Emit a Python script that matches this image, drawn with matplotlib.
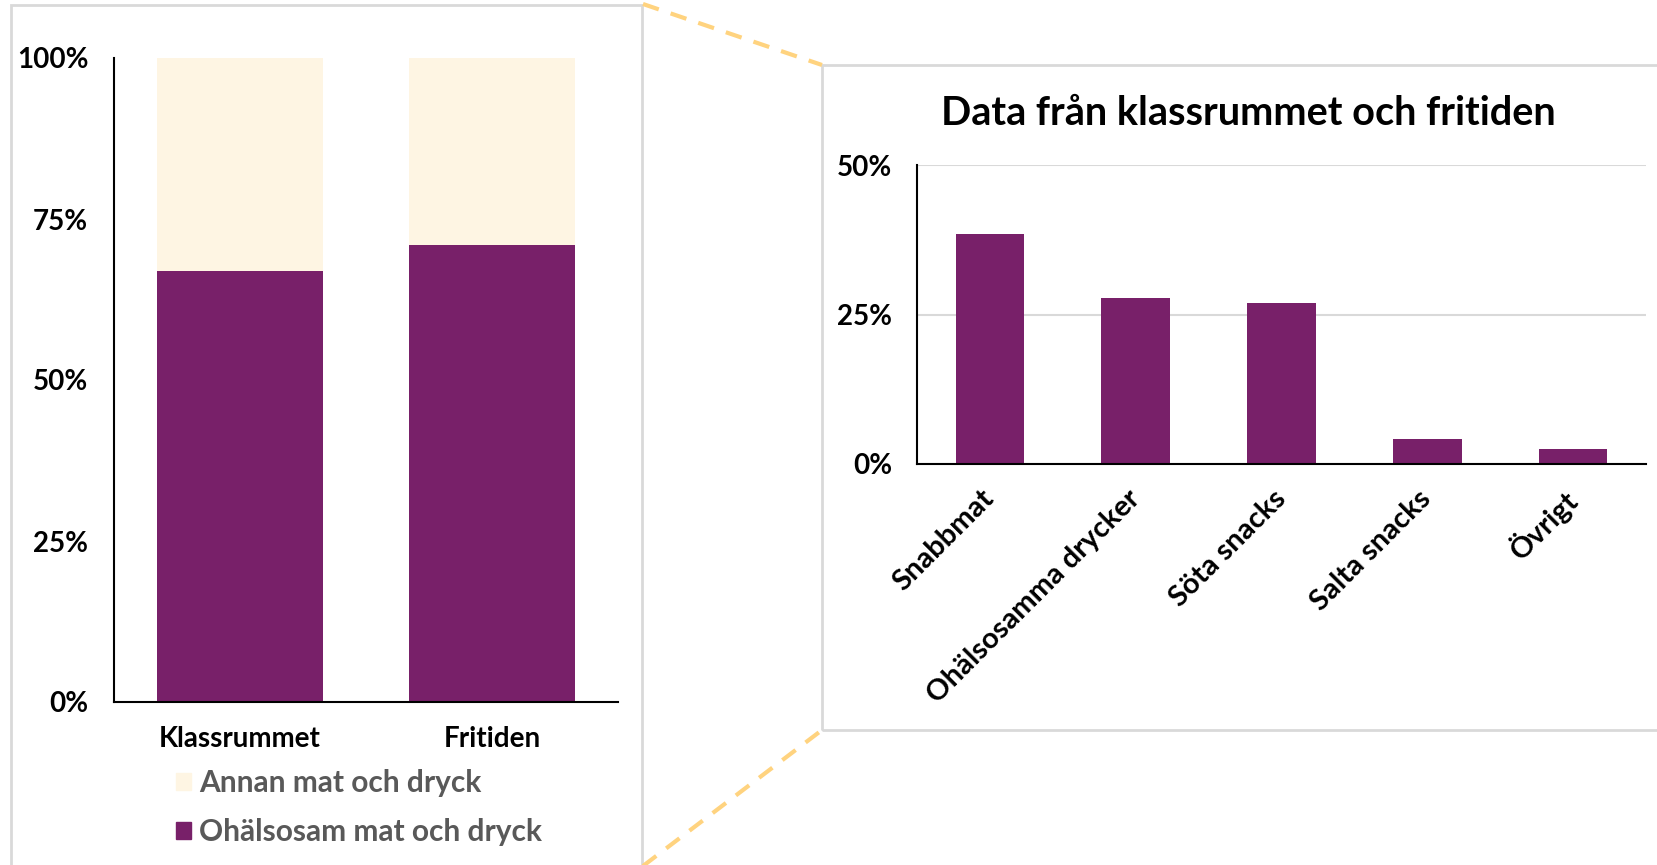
import matplotlib.pyplot as plt
from matplotlib.lines import Line2D
from matplotlib.patches import Rectangle, Patch

# left chart: share of unhealthy vs other food (percent)
places = ['Klassrummet', 'Fritiden']
unhealthy = [67, 71]
other = [33, 29]

# right chart: breakdown (percent)
kinds = ['Snabbmat', 'Ohälsosamma drycker', 'Söta snacks', 'Salta snacks', 'Övrigt']
kind_share = [38.5, 27.7, 27.0, 4.1, 2.5]

purple = '#782069'
cream = '#FEF5E3'
frame = '#D9D9D9'
gold = '#FFD37F'

plt.rcParams['font.family'] = ['Lato', 'DejaVu Sans']
plt.rcParams['font.weight'] = 'bold'

W, H = 1657, 865
fig = plt.figure(figsize=(W / 100, H / 100), dpi=100)


def fx(px):
    return px / W


def fy(py):
    return 1 - py / H


# panel frames and dashed connectors
fig.patches.append(Rectangle((fx(11), fy(870)), fx(642) - fx(11), fy(5) - fy(870),
                             transform=fig.transFigure, fill=False, ec=frame, lw=2))
fig.patches.append(Rectangle((fx(822), fy(730)), fx(1670) - fx(822), fy(65) - fy(730),
                             transform=fig.transFigure, fill=False, ec=frame, lw=2))
fig.lines.append(Line2D([fx(643), fx(822)], [fy(4), fy(65)], transform=fig.transFigure,
                        color=gold, lw=3, ls=(0, (4, 3))))
fig.lines.append(Line2D([fx(643), fx(822)], [fy(866), fy(730)], transform=fig.transFigure,
                        color=gold, lw=3, ls=(0, (4, 3))))

# ---- left stacked chart ----
ax1 = fig.add_axes([fx(114), fy(702), fx(618) - fx(114), fy(58) - fy(702)])
ax1.bar(places, unhealthy, width=0.66, color=purple, label='Ohälsosam mat och dryck')
ax1.bar(places, other, width=0.66, bottom=unhealthy, color=cream, label='Annan mat och dryck')
ax1.set_xlim(-0.5, 1.5)
ax1.set_ylim(0, 100)
ax1.set_yticks([0, 25, 50, 75, 100])
ax1.set_yticklabels(['0%', '25%', '50%', '75%', '100%'])
ax1.tick_params(axis='y', length=0, pad=18.5, labelsize=20)
ax1.tick_params(axis='x', length=0, pad=17, labelsize=20)
for s in ['top', 'right']:
    ax1.spines[s].set_visible(False)
for s in ['left', 'bottom']:
    ax1.spines[s].set_linewidth(1.5)
    ax1.spines[s].set_color('black')

handles = [Patch(color=cream), Patch(color=purple)]
fig.legend(handles, ['Annan mat och dryck', 'Ohälsosam mat och dryck'],
           loc='upper left', bbox_to_anchor=(fx(176), fy(769)), frameon=False,
           handlelength=0.5, handleheight=0.5, handletextpad=0.28, labelspacing=0.7,
           borderpad=0, borderaxespad=0, labelcolor='#595959',
           prop={'size': 21.5, 'weight': 'bold'})

# ---- right bar chart ----
ax2 = fig.add_axes([fx(917), fy(464), fx(1646) - fx(917), fy(165) - fy(464)])
ax2.bar(range(len(kinds)), kind_share, width=0.47, color=purple, zorder=3)
ax2.set_xlim(-0.5, 4.5)
ax2.set_ylim(0, 50)
ax2.set_yticks([0, 25, 50])
ax2.set_yticklabels(['0%', '25%', '50%'])
ax2.set_xticks(range(len(kinds)))
ax2.set_xticklabels(kinds, rotation=45, ha='right', va='center', rotation_mode='anchor')
ax2.tick_params(axis='y', length=0, pad=18, labelsize=20)
ax2.tick_params(axis='x', length=0, pad=22, labelsize=21)
ax2.grid(axis='y', color=frame, lw=1.5, zorder=0)
for s in ['top', 'right']:
    ax2.spines[s].set_visible(False)
for s in ['left', 'bottom']:
    ax2.spines[s].set_linewidth(1.5)
    ax2.spines[s].set_color('black')
    ax2.spines[s].set_zorder(4)
ax2.set_title('Data från klassrummet och fritiden', fontsize=28.5, fontweight='bold',
              x=0.455, pad=29)

fig.savefig('out.png', dpi=100)
